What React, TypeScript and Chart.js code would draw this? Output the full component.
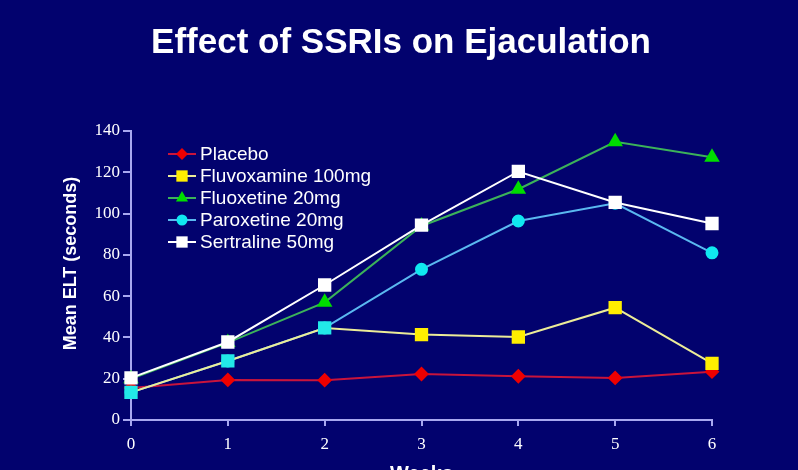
import React, { useEffect, useRef } from "react";
import { Chart, registerables } from "chart.js";

Chart.register(...registerables);

const weeks = ["0", "1", "2", "3", "4", "5", "6"];
const yTicks = [0, 20, 40, 60, 80, 100, 120, 140];

const placebo = [15.5, 19.4, 19.3, 22.3, 21.2, 20.4, 23.4];
const fluvoxamine = [13.4, 28.6, 44.6, 41.4, 40.2, 54.4, 27.4];
const fluoxetine = [20, 37.5, 57, 94, 111.8, 134.8, 127.3];
const paroxetine = [13.4, 28.6, 44.6, 73, 96.4, 105, 81];
const sertraline = [20.4, 37.8, 65.4, 94.4, 120.4, 105.4, 95.2];

const seriesNames = [
  "Placebo",
  "Fluvoxamine 100mg",
  "Fluoxetine 20mg",
  "Paroxetine 20mg",
  "Sertraline 50mg",
];

const chartTitle = "Effect of SSRIs on Ejaculation";
const yTitle = "Mean ELT (seconds)";
const xTitle = "Weeks";

const BG = "#02026e";
const AXIS = "#a8a8f0";

const textPlugin = {
  id: "slideTexts",
  afterDraw(chart: any) {
    const { ctx, chartArea } = chart;
    ctx.save();
    ctx.fillStyle = "#ffffff";
    // main title
    ctx.font = "bold 35px 'Liberation Sans', Arial, sans-serif";
    ctx.textAlign = "center";
    ctx.textBaseline = "alphabetic";
    ctx.fillText(chartTitle, chart.width / 2 + 2, 53);
    // y title
    ctx.save();
    ctx.translate(76, chartArea.top + (chartArea.bottom - chartArea.top) / 2 - 12);
    ctx.rotate(-Math.PI / 2);
    ctx.font = "bold 18px 'Liberation Sans', Arial, sans-serif";
    ctx.textAlign = "center";
    ctx.textBaseline = "alphabetic";
    ctx.fillText(yTitle, 0, 0);
    ctx.restore();

    // legend
    const x0 = chartArea.left + 37;
    const y0 = chartArea.top + 23;
    const step = 22;
    chart.data.datasets.forEach((ds: any, i: number) => {
      const y = y0 + i * step;
      ctx.strokeStyle = ds.borderColor;
      ctx.lineWidth = 2;
      ctx.beginPath();
      ctx.moveTo(x0, y);
      ctx.lineTo(x0 + 28, y);
      ctx.stroke();
      const fill = Array.isArray(ds.pointBackgroundColor)
        ? ds.legendColor
        : ds.pointBackgroundColor;
      ctx.fillStyle = fill;
      const cx = x0 + 14;
      const r = ds.pointRadius;
      ctx.beginPath();
      if (ds.pointStyle === "rect") {
        const s = Math.SQRT1_2 * r;
        ctx.rect(cx - s, y - s, 2 * s, 2 * s);
      } else if (ds.pointStyle === "rectRot") {
        ctx.moveTo(cx, y - r);
        ctx.lineTo(cx + r, y);
        ctx.lineTo(cx, y + r);
        ctx.lineTo(cx - r, y);
        ctx.closePath();
      } else if (ds.pointStyle === "triangle") {
        const w = (r * Math.sqrt(3)) / 2;
        ctx.moveTo(cx, y - r);
        ctx.lineTo(cx + w, y + r / 2);
        ctx.lineTo(cx - w, y + r / 2);
        ctx.closePath();
      } else {
        ctx.arc(cx, y, r, 0, Math.PI * 2);
      }
      ctx.fill();
      ctx.fillStyle = "#ffffff";
      ctx.font = "19px 'Liberation Sans', Arial, sans-serif";
      ctx.textBaseline = "middle";
      ctx.textAlign = "left";
      ctx.fillText(ds.label, x0 + 32, y + 1);
    });
    ctx.restore();
  },
};

export default function App() {
  const ref = useRef<HTMLCanvasElement | null>(null);

  useEffect(() => {
    document.body.style.margin = "0";
    document.body.style.overflow = "hidden";
    document.body.style.background = BG;
    const canvas = ref.current;
    if (!canvas) return;
    const pointColsFluvox = ["#22e8e8", "#22e8e8", "#22e8e8", "#ffee00", "#ffee00", "#ffee00", "#ffee00"];
    const chart = new Chart(canvas, {
      type: "line",
      data: {
        labels: weeks,
        datasets: [
          {
            label: seriesNames[0],
            data: placebo,
            borderColor: "#c8143c",
            backgroundColor: "#ff0000",
            pointBackgroundColor: "#ee0000",
            pointBorderColor: "#ee0000",
            pointStyle: "rectRot",
            pointRadius: 6,
            borderWidth: 2,
            order: 4,
          },
          {
            label: seriesNames[1],
            data: fluvoxamine,
            borderColor: "#ecec98",
            backgroundColor: "#ffff00",
            legendColor: "#ffee00",
            pointBackgroundColor: pointColsFluvox,
            pointBorderColor: pointColsFluvox,
            pointStyle: "rect",
            pointRadius: 8,
            borderWidth: 2,
            order: 1,
          } as any,
          {
            label: seriesNames[2],
            data: fluoxetine,
            borderColor: "#3cb25a",
            backgroundColor: "#00dd00",
            pointBackgroundColor: "#00dd00",
            pointBorderColor: "#00dd00",
            pointStyle: "triangle",
            pointRadius: 7,
            borderWidth: 2,
            order: 3,
          },
          {
            label: seriesNames[3],
            data: paroxetine,
            borderColor: "#5ab8f0",
            backgroundColor: "#00e8f0",
            pointBackgroundColor: "#10e8f0",
            pointBorderColor: "#10e8f0",
            pointStyle: "circle",
            pointRadius: 5.5,
            borderWidth: 2,
            order: 2,
          },
          {
            label: seriesNames[4],
            data: sertraline,
            borderColor: "#ffffff",
            backgroundColor: "#ffffff",
            pointBackgroundColor: "#ffffff",
            pointBorderColor: "#ffffff",
            pointStyle: "rect",
            pointRadius: 8,
            borderWidth: 2,
            order: 0,
          },
        ],
      },
      options: {
        responsive: false,
        animation: false,
        events: [],
        layout: { padding: { top: 131, left: 0, right: 86, bottom: 0 } },
        plugins: {
          legend: { display: false },
          tooltip: { enabled: false },
          title: { display: false },
        },
        scales: {
          x: {
            type: "category",
            offset: false,
            afterFit: (s: any) => {
              s.height = 75;
            },
            grid: {
              display: true,
              drawOnChartArea: false,
              drawTicks: true,
              tickLength: 6,
              color: AXIS,
              lineWidth: 2,
            },
            border: { display: true, color: AXIS, width: 2 },
            ticks: {
              color: "#ffffff",
              padding: 8,
              maxRotation: 0,
              font: { family: "'Liberation Serif', 'Times New Roman', serif", size: 17 },
            },
            title: {
              display: true,
              text: xTitle,
              color: "#ffffff",
              font: { family: "'Liberation Sans', Arial, sans-serif", size: 20, weight: "bold" },
              padding: { top: 0, bottom: 9 },
            },
          },
          y: {
            min: 0,
            max: 140,
            afterFit: (s: any) => {
              s.width = 131;
            },
            afterBuildTicks: (s: any) => {
              s.ticks = yTicks.map((v) => ({ value: v }));
            },
            grid: {
              display: true,
              drawOnChartArea: false,
              drawTicks: true,
              tickLength: 8,
              color: AXIS,
              lineWidth: 2,
            },
            border: { display: true, color: AXIS, width: 2 },
            ticks: {
              color: "#ffffff",
              padding: 3,
              font: { family: "'Liberation Serif', 'Times New Roman', serif", size: 17 },
            },
            title: { display: false },
          },
        },
      },
      plugins: [textPlugin],
    } as any);
    return () => chart.destroy();
  }, []);

  return (
    <div style={{ width: 798, height: 470, overflow: "hidden", background: BG, position: "relative" }}>
      <canvas ref={ref} width={798} height={495} style={{ display: "block", width: 798, height: 495 }} />
    </div>
  );
}
